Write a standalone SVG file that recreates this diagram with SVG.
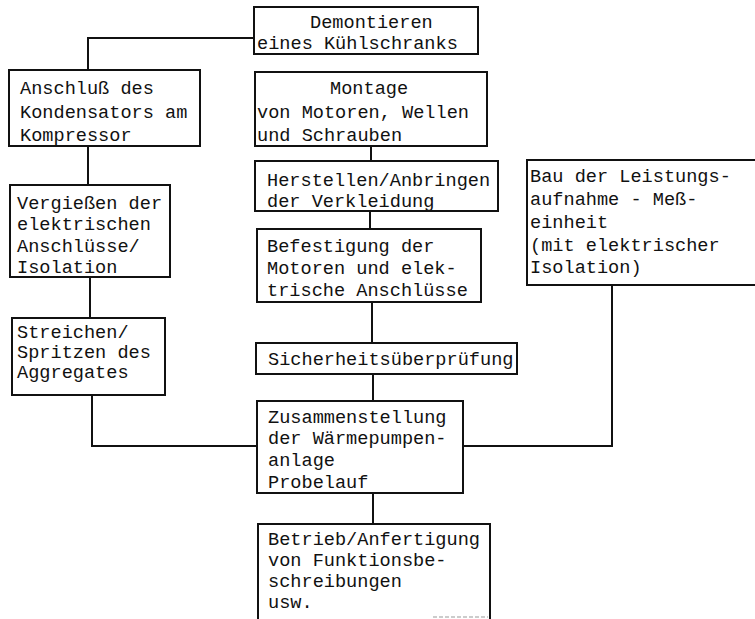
<svg xmlns="http://www.w3.org/2000/svg" width="755" height="619" viewBox="0 0 755 619">
<style>
.b{fill:#fff;stroke:#111;stroke-width:2}
.c{fill:none;stroke:#111;stroke-width:2}
text{font-family:"Liberation Mono","DejaVu Sans Mono",monospace;font-size:18.6px;fill:#111}
</style>
<rect width="755" height="619" fill="#fff"/>
<g id="connectors">
<polyline class="c" points="254,38 88,38 88,70"/>
<line class="c" x1="88" y1="146" x2="88" y2="185"/>
<line class="c" x1="90" y1="277" x2="90" y2="318"/>
<polyline class="c" points="92,395 92,446 257,446"/>
<line class="c" x1="371" y1="146" x2="371" y2="161"/>
<line class="c" x1="370" y1="211" x2="370" y2="229"/>
<line class="c" x1="372" y1="302" x2="372" y2="343"/>
<line class="c" x1="373" y1="374" x2="373" y2="401"/>
<line class="c" x1="373" y1="493" x2="373" y2="524"/>
<polyline class="c" points="463,446 612,446 612,285"/>
</g>
<g id="demontieren">
<rect class="b" x="254" y="7" width="224" height="47"/>
<text x="310" y="28">Demontieren</text>
<text x="257" y="49">eines Kühlschranks</text>
</g>
<g id="anschluss">
<rect class="b" x="9" y="70" width="191" height="76"/>
<text x="20" y="94">Anschluß des</text>
<text x="20" y="118">Kondensators am</text>
<text x="20" y="141">Kompressor</text>
</g>
<g id="montage">
<rect class="b" x="255" y="72" width="232" height="74"/>
<text x="330" y="94">Montage</text>
<text x="257" y="118">von Motoren, Wellen</text>
<text x="257" y="141">und Schrauben</text>
</g>
<g id="herstellen">
<rect class="b" x="255" y="161" width="243" height="50"/>
<text x="267" y="186">Herstellen/Anbringen</text>
<text x="267" y="207">der Verkleidung</text>
</g>
<g id="vergiessen">
<rect class="b" x="10" y="185" width="160" height="92"/>
<text x="17" y="209">Vergießen der</text>
<text x="17" y="230">elektrischen</text>
<text x="17" y="252">Anschlüsse/</text>
<text x="17" y="273">Isolation</text>
</g>
<g id="befestigung">
<rect class="b" x="257" y="229" width="224" height="73"/>
<text x="267" y="252">Befestigung der</text>
<text x="267" y="274">Motoren und elek-</text>
<text x="267" y="296">trische Anschlüsse</text>
</g>
<g id="bau">
<rect class="b" x="527" y="160" width="240" height="125"/>
<text x="530" y="182">Bau der Leistungs-</text>
<text x="530" y="205">aufnahme - Meß-</text>
<text x="530" y="228">einheit</text>
<text x="530" y="251">(mit elektrischer</text>
<text x="530" y="273">Isolation)</text>
</g>
<g id="streichen">
<rect class="b" x="12" y="318" width="153" height="77"/>
<text x="17" y="338">Streichen/</text>
<text x="17" y="358">Spritzen des</text>
<text x="17" y="378">Aggregates</text>
</g>
<g id="sicherheit">
<rect class="b" x="256" y="343" width="261" height="31"/>
<text x="268" y="365">Sicherheitsüberprüfung</text>
</g>
<g id="zusammenstellung">
<rect class="b" x="257" y="401" width="206" height="92"/>
<text x="268" y="423">Zusammenstellung</text>
<text x="268" y="444">der Wärmepumpen-</text>
<text x="268" y="466">anlage</text>
<text x="268" y="488">Probelauf</text>
</g>
<g id="betrieb">
<path class="c" d="M258,619 V524 H490 V619"/>
<line x1="433" y1="617" x2="488" y2="617" stroke="#999" stroke-width="1" stroke-dasharray="4,2"/>
<text x="268" y="545">Betrieb/Anfertigung</text>
<text x="268" y="566">von Funktionsbe-</text>
<text x="268" y="587">schreibungen</text>
<text x="268" y="608">usw.</text>
</g>
</svg>
